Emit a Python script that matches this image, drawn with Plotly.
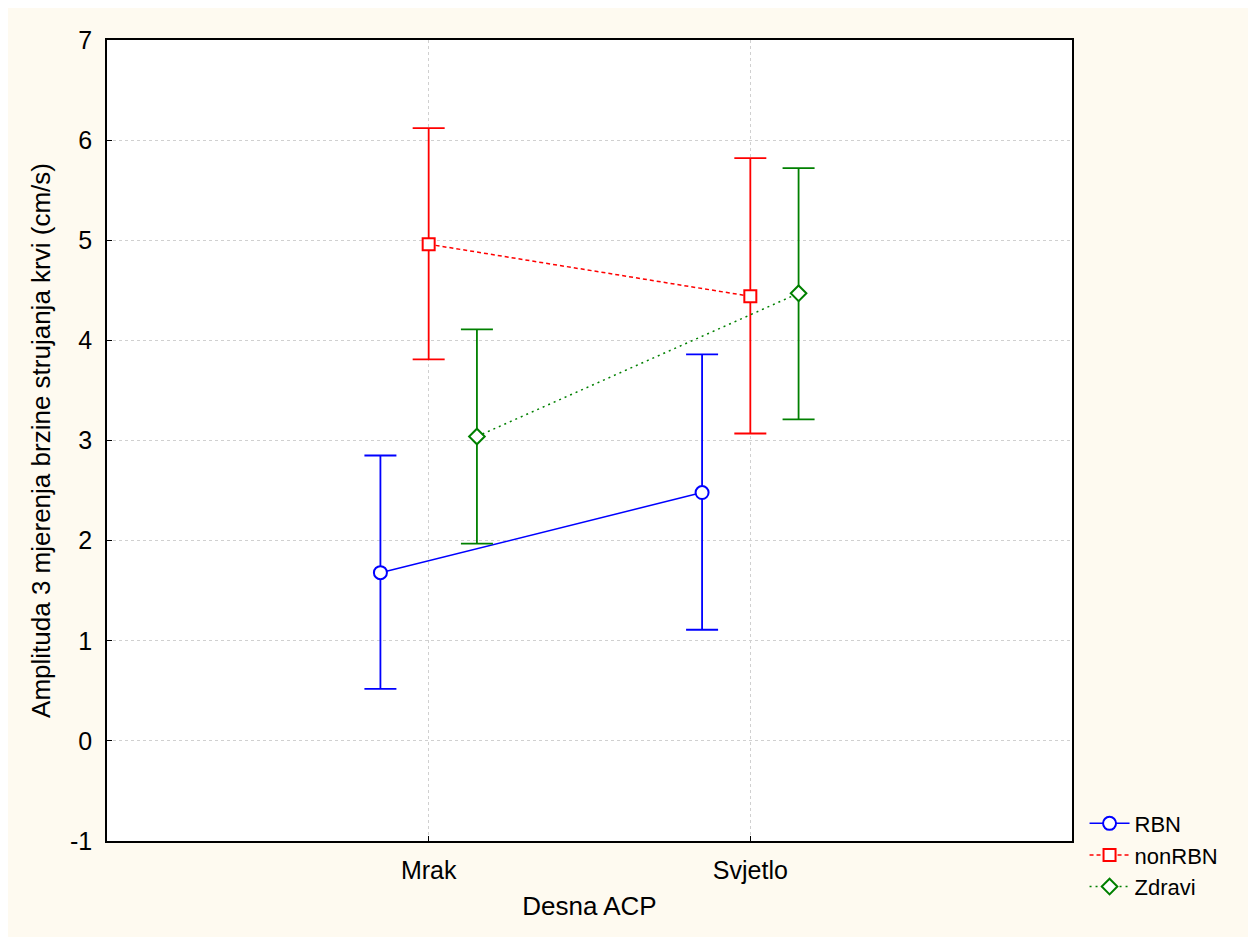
import plotly.graph_objects as go

categories = ["Mrak", "Svjetlo"]
series = ["RBN", "nonRBN", "Zdravi"]

rbn_mean = [1.68, 2.48]
rbn_upper = [2.85, 3.86]
rbn_lower = [0.52, 1.11]

nonrbn_mean = [4.96, 4.44]
nonrbn_upper = [6.12, 5.82]
nonrbn_lower = [3.81, 3.07]

zdravi_mean = [3.04, 4.47]
zdravi_upper = [4.11, 5.72]
zdravi_lower = [1.97, 3.21]

y_ticks = [-1, 0, 1, 2, 3, 4, 5, 6, 7]
y_tick_labels = ["-1", "0", "1", "2", "3", "4", "5", "6", "7"]

colors = ["#0000FF", "#FF0000", "#008000"]
symbols = ["circle", "square", "diamond"]
dashes = ["solid", "4px,3px", "2px,4px"]
offsets = [-0.15, 0.0, 0.15]
sizes = [13, 12, 12]

means = [rbn_mean, nonrbn_mean, zdravi_mean]
uppers = [rbn_upper, nonrbn_upper, zdravi_upper]
lowers = [rbn_lower, nonrbn_lower, zdravi_lower]

FONT = "Liberation Sans, Arial, sans-serif"
CREAM = "#FEFAF0"

fig = go.Figure()
for i, name in enumerate(series):
    xs = [k + offsets[i] for k in range(len(categories))]
    m = means[i]
    fig.add_trace(go.Scatter(
        x=xs, y=m, name=name, mode="lines+markers",
        line=dict(color=colors[i], width=1.5, dash=dashes[i]),
        marker=dict(symbol=symbols[i], size=sizes[i], color="white",
                    line=dict(color=colors[i], width=2)),
        error_y=dict(type="data", symmetric=False,
                     array=[u - v for u, v in zip(uppers[i], m)],
                     arrayminus=[v - l for v, l in zip(m, lowers[i])],
                     color=colors[i], thickness=1.8, width=16),
    ))

fig.update_layout(
    width=1248, height=929,
    margin=dict(l=99, r=184, t=32, b=96),
    paper_bgcolor=CREAM, plot_bgcolor="white",
    font=dict(family=FONT, color="black", size=25),
    showlegend=True,
    legend=dict(x=1.013, y=0.048, xanchor="left", yanchor="top",
                bgcolor="rgba(0,0,0,0)", font=dict(size=22), itemwidth=40,
                tracegroupgap=0),
    xaxis=dict(range=[-1, 2], tickmode="array", tickvals=[0, 1], ticktext=categories,
               showgrid=True, gridcolor="#d0d0d0", griddash="dot", gridwidth=1,
               zeroline=False, showline=True, linecolor="black", linewidth=1.5, mirror=True,
               ticks="inside", ticklen=5, tickcolor="black",
               tickfont=dict(size=25), ticklabelstandoff=6,
               title=dict(text="Desna ACP", font=dict(size=26), standoff=14)),
    yaxis=dict(range=[-1, 7], tickmode="array", tickvals=y_ticks, ticktext=y_tick_labels,
               showgrid=True, gridcolor="#d0d0d0", griddash="dot", gridwidth=1,
               zeroline=False, showline=True, linecolor="black", linewidth=1.5, mirror=True,
               ticks="inside", ticklen=5, tickcolor="black",
               tickfont=dict(size=25), ticklabelstandoff=8,
               title=dict(text="Amplituda 3 mjerenja brzine strujanja krvi (cm/s)",
                          font=dict(size=26), standoff=12)),
)

fig.write_html("out.html")
